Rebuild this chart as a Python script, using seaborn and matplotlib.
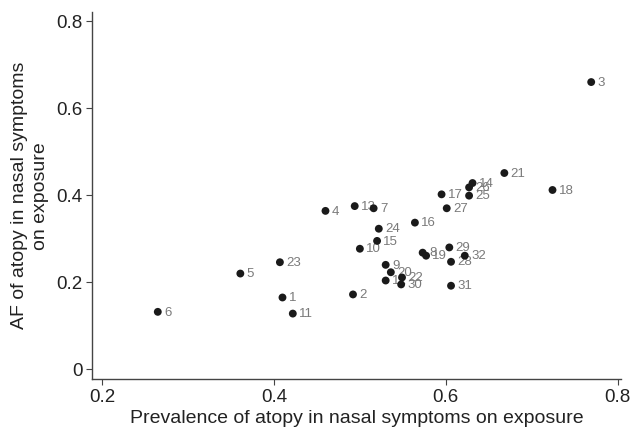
import matplotlib
matplotlib.use("Agg")
import matplotlib.pyplot as plt
import seaborn as sns
import pandas as pd

ids = ["1", "2", "3", "4", "5", "6", "7", "8", "9", "10", "11", "12", "13", "14", "15", "16",
       "17", "18", "19", "20", "21", "22", "23", "24", "25", "26", "27", "28", "29", "30", "31", "32"]
prevalence = [0.410, 0.492, 0.769, 0.460, 0.361, 0.265, 0.516, 0.573, 0.530, 0.500, 0.422, 0.530,
              0.494, 0.631, 0.520, 0.564, 0.595, 0.724, 0.577, 0.536, 0.668, 0.549, 0.407, 0.522,
              0.627, 0.627, 0.601, 0.606, 0.604, 0.548, 0.606, 0.622]
af = [0.165, 0.172, 0.660, 0.364, 0.220, 0.132, 0.370, 0.268, 0.240, 0.277, 0.128, 0.204,
      0.375, 0.428, 0.295, 0.337, 0.402, 0.412, 0.261, 0.223, 0.451, 0.211, 0.246, 0.323,
      0.399, 0.418, 0.370, 0.247, 0.280, 0.195, 0.192, 0.261]

df = pd.DataFrame({"id": ids, "prev": prevalence, "af": af})

sns.set_style("white")
plt.rcParams["font.family"] = ["Liberation Sans", "DejaVu Sans"]

fig = plt.figure(figsize=(6.33, 4.32), dpi=100)
ax = fig.add_axes([92 / 633, 1 - 379.3 / 432, 529.3 / 633, 367.3 / 432])

sns.scatterplot(data=df, x="prev", y="af", ax=ax, color="#1a1a1a", s=32,
                edgecolor="none", linewidth=0, zorder=3)
for _, r in df.iterrows():
    ax.annotate(r["id"], (r["prev"], r["af"]), xytext=(4.5, -0.5), textcoords="offset points",
                ha="left", va="center", fontsize=9.5, color="#7a7a7a", zorder=2)

ax.set_xlim(0.1885, 0.804)
ax.set_ylim(-0.023, 0.821)
ax.set_xticks([0.2, 0.4, 0.6, 0.8])
ax.set_xticklabels(["0.2", "0.4", "0.6", "0.8"])
ax.set_yticks([0, 0.2, 0.4, 0.6, 0.8])
ax.set_yticklabels(["0", "0.2", "0.4", "0.6", "0.8"])

for side in ["top", "right"]:
    ax.spines[side].set_visible(False)
for side in ["left", "bottom"]:
    ax.spines[side].set_color("#444444")
    ax.spines[side].set_linewidth(1.0)

ax.tick_params(axis="both", which="major", direction="out", length=4.5, width=0.8,
               color="#444444", labelsize=13.5, labelcolor="#222222", pad=2.5, bottom=True, left=True)

ax.set_xlabel("Prevalence of atopy in nasal symptoms on exposure", fontsize=14, color="#222222", labelpad=3)
ax.set_ylabel("AF of atopy in nasal symptoms\non exposure", fontsize=14, color="#222222", labelpad=5,
              linespacing=1.35)

fig.savefig("out.png", dpi=100)
